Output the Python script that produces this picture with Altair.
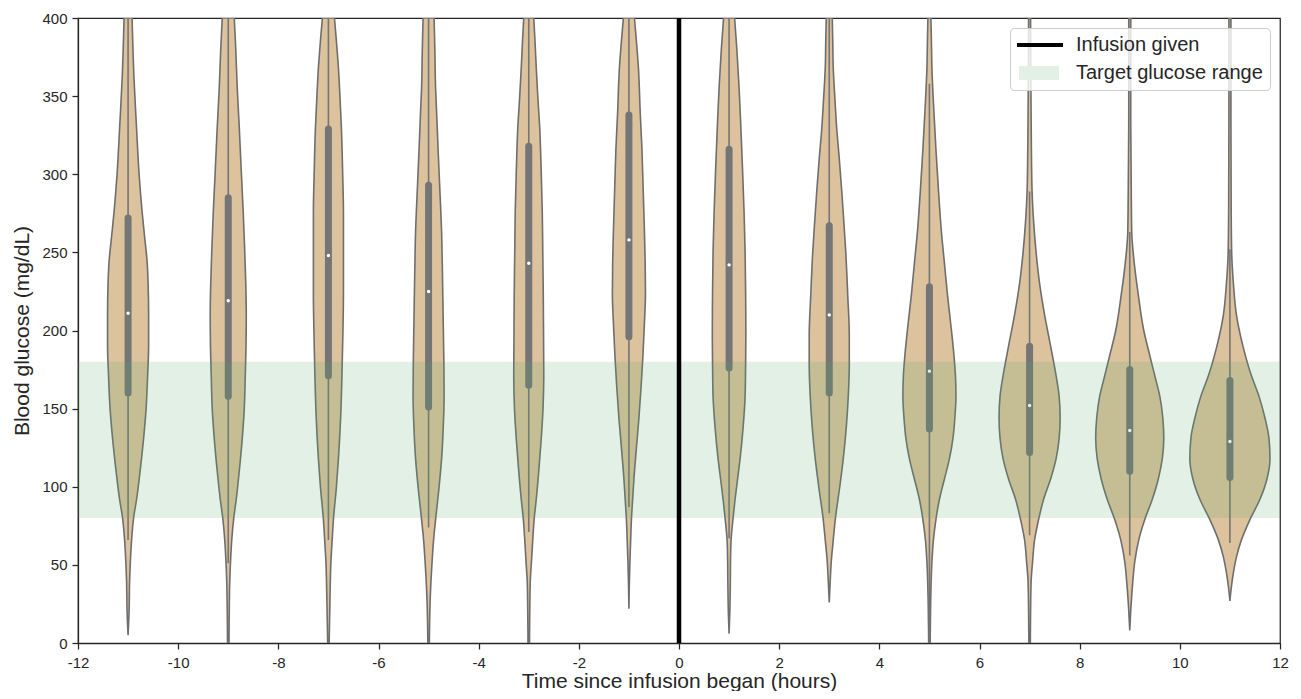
import altair as alt
import pandas as pd

# ---------------- data ----------------
centers = [-11, -9, -7, -5, -3, -1, 1, 3, 5, 7, 9, 11]

# violin outlines: glucose level (mg/dL) and half-width (hours)
lev_m11 = [5, 20, 39, 55, 66, 80, 92, 110, 131, 150, 171, 190, 210, 230, 244, 260, 276, 300, 329, 360, 400]
hw_m11 = [0, 0.02, 0.03, 0.05, 0.07, 0.11, 0.17, 0.24, 0.31, 0.36, 0.39, 0.41, 0.41, 0.40, 0.38, 0.33, 0.28, 0.22, 0.17, 0.12, 0.08]
lev_m9 = [0, 20, 39, 55, 66, 80, 92, 110, 131, 150, 171, 190, 210, 230, 250, 275, 302, 330, 355, 380, 400]
hw_m9 = [0.015, 0.02, 0.03, 0.05, 0.07, 0.11, 0.16, 0.22, 0.28, 0.32, 0.34, 0.355, 0.36, 0.35, 0.33, 0.30, 0.26, 0.22, 0.18, 0.15, 0.12]
lev_m7 = [0, 26, 52, 66, 79, 100, 118, 145, 171, 200, 223, 250, 276, 300, 329, 350, 368, 385, 400]
hw_m7 = [0.015, 0.03, 0.05, 0.075, 0.10, 0.16, 0.20, 0.245, 0.27, 0.29, 0.30, 0.30, 0.30, 0.285, 0.26, 0.23, 0.20, 0.16, 0.12]
lev_m5 = [0, 26, 52, 66, 79, 100, 118, 140, 158, 180, 210, 240, 263, 290, 316, 340, 355, 380, 400]
hw_m5 = [0.015, 0.03, 0.07, 0.10, 0.14, 0.21, 0.26, 0.295, 0.31, 0.305, 0.29, 0.275, 0.26, 0.225, 0.19, 0.16, 0.14, 0.125, 0.11]
lev_m3 = [0, 20, 39, 55, 66, 80, 92, 110, 131, 150, 171, 200, 223, 250, 276, 300, 329, 350, 368, 385, 400]
hw_m3 = [0.015, 0.02, 0.03, 0.06, 0.08, 0.11, 0.15, 0.20, 0.25, 0.285, 0.30, 0.295, 0.29, 0.28, 0.27, 0.25, 0.22, 0.18, 0.15, 0.125, 0.10]
lev_m1 = [22, 40, 52, 66, 79, 92, 105, 125, 144, 165, 184, 205, 223, 243, 263, 290, 316, 340, 368, 385, 400]
hw_m1 = [0, 0.01, 0.02, 0.035, 0.05, 0.075, 0.10, 0.15, 0.20, 0.245, 0.28, 0.31, 0.33, 0.325, 0.31, 0.285, 0.26, 0.225, 0.19, 0.15, 0.11]
lev_p1 = [6, 20, 39, 55, 66, 80, 92, 105, 118, 138, 158, 178, 197, 225, 250, 275, 302, 330, 355, 380, 400]
hw_p1 = [0, 0.015, 0.025, 0.03, 0.04, 0.08, 0.12, 0.17, 0.22, 0.28, 0.32, 0.33, 0.335, 0.33, 0.32, 0.30, 0.27, 0.235, 0.20, 0.155, 0.11]
lev_p3 = [26, 40, 52, 66, 79, 100, 118, 138, 158, 178, 197, 222, 250, 270, 289, 310, 329, 350, 368, 385, 400]
hw_p3 = [0, 0.02, 0.04, 0.08, 0.12, 0.21, 0.28, 0.34, 0.38, 0.40, 0.40, 0.37, 0.33, 0.29, 0.25, 0.20, 0.15, 0.11, 0.08, 0.07, 0.06]
lev_p5 = [0, 26, 52, 66, 79, 92, 105, 118, 131, 145, 158, 171, 184, 200, 223, 243, 263, 290, 316, 340, 368, 385, 400]
hw_p5 = [0.015, 0.025, 0.05, 0.08, 0.13, 0.20, 0.30, 0.40, 0.47, 0.51, 0.53, 0.52, 0.49, 0.44, 0.36, 0.30, 0.24, 0.18, 0.13, 0.09, 0.05, 0.04, 0.03]
lev_p7 = [0, 20, 39, 52, 66, 79, 92, 105, 118, 131, 144, 158, 171, 190, 210, 230, 250, 270, 289, 320, 360, 400]
hw_p7 = [0.015, 0.02, 0.03, 0.06, 0.10, 0.18, 0.28, 0.42, 0.53, 0.59, 0.61, 0.59, 0.53, 0.42, 0.30, 0.20, 0.13, 0.08, 0.05, 0.035, 0.025, 0.02]
lev_p9 = [8, 26, 39, 52, 66, 79, 92, 105, 118, 131, 144, 158, 171, 184, 200, 223, 243, 263, 290, 340, 400]
hw_p9 = [0, 0.03, 0.06, 0.10, 0.18, 0.30, 0.45, 0.57, 0.65, 0.68, 0.66, 0.60, 0.50, 0.40, 0.28, 0.17, 0.09, 0.04, 0.03, 0.02, 0.02]
lev_p11 = [27, 36, 45, 55, 66, 79, 92, 105, 118, 131, 144, 158, 171, 190, 210, 230, 250, 280, 340, 400]
hw_p11 = [0, 0.03, 0.07, 0.13, 0.23, 0.40, 0.60, 0.74, 0.80, 0.78, 0.70, 0.58, 0.43, 0.26, 0.13, 0.07, 0.035, 0.025, 0.02, 0.02]

levels = [lev_m11, lev_m9, lev_m7, lev_m5, lev_m3, lev_m1, lev_p1, lev_p3, lev_p5, lev_p7, lev_p9, lev_p11]
halfws = [hw_m11, hw_m9, hw_m7, hw_m5, hw_m3, hw_m1, hw_p1, hw_p3, hw_p5, hw_p7, hw_p9, hw_p11]

# inner box plots
q1 = [160, 158, 171, 151, 165, 196, 176, 160, 137, 122, 110, 106]
q3 = [272, 285, 329, 293, 318, 338, 316, 267, 228, 190, 175, 168]
med = [211, 219, 248, 225, 243, 258, 242, 210, 174, 152, 136, 129]
whisk_lo = [66, 51, 66, 74, 71, 87, 67, 83, 0, 69, 56, 64]
whisk_hi = [400, 400, 400, 400, 400, 400, 400, 400, 358, 289, 263, 252]

band_lo = [80]
band_hi = [180]
infusion_time = [0]

legend_labels = ["Infusion given", "Target glucose range"]
x_ticks = [-12, -10, -8, -6, -4, -2, 0, 2, 4, 6, 8, 10, 12]
y_ticks = [0, 50, 100, 150, 200, 250, 300, 350, 400]

# ---------------- tables ----------------
bdf = pd.DataFrame({"t": centers, "q1": q1, "q3": q3, "med": med,
                    "wlo": whisk_lo, "whi": whisk_hi})
band_df = pd.DataFrame({"blo": band_lo, "bhi": band_hi})
zero_df = pd.DataFrame({"t": infusion_time})
leg_df = pd.DataFrame({"label": legend_labels})

FONT = "Liberation Sans"
INK = "#262626"

xscale = alt.Scale(domain=[-12, 12], nice=False, zero=False)
yscale = alt.Scale(domain=[0, 400], nice=False)
xaxis = alt.Axis(values=x_ticks, labelExpr="datum.value + ''", title="Time since infusion began (hours)",
                 grid=False, tickSize=6, labelPadding=6, titlePadding=0, labelFlush=False)
yaxis = alt.Axis(values=y_ticks, title="Blood glucose (mg/dL)", grid=False, tickSize=6,
                 labelPadding=5, titlePadding=9, labelFlush=False)

violin_layers = []
for c, levs, ws in zip(centers, levels, halfws):
    df = pd.DataFrame({"g": levs, "left": [c - w for w in ws], "right": [c + w for w in ws]})
    violin_layers.append(
        alt.Chart(df).mark_area(orient="horizontal", interpolate="monotone", fill="#dcc39d",
                                stroke="#6e6e6e", strokeWidth=1.6, clip=True).encode(
            y=alt.Y("g:Q", scale=yscale, axis=yaxis),
            x=alt.X("left:Q", scale=xscale, stack=None, axis=xaxis),
            x2="right:Q")
    )

whiskers = alt.Chart(bdf).mark_rule(color="#757575", strokeWidth=1.6, clip=True).encode(
    x=alt.X("t:Q", scale=xscale, axis=xaxis), y=alt.Y("wlo:Q", scale=yscale, axis=yaxis), y2="whi:Q")

boxes = alt.Chart(bdf).mark_rule(color="#757575", strokeWidth=7, strokeCap="round", clip=True).encode(
    x=alt.X("t:Q", scale=xscale, axis=xaxis), y=alt.Y("q1:Q", scale=yscale, axis=yaxis), y2="q3:Q")

medians = alt.Chart(bdf).mark_point(filled=True, color="white", size=12, opacity=1, strokeWidth=0).encode(
    x=alt.X("t:Q", scale=xscale, axis=xaxis), y=alt.Y("med:Q", scale=yscale, axis=yaxis))

band = alt.Chart(band_df).mark_rect(color="#55a868", opacity=0.17).encode(
    y=alt.Y("blo:Q", scale=yscale, axis=yaxis), y2="bhi:Q")

zero_line = alt.Chart(zero_df).mark_rule(color="black", strokeWidth=4.5).encode(
    x=alt.X("t:Q", scale=xscale, axis=xaxis))

line_path = "M-1,-0.2H3.6V0.2H-1Z"
rect_path = "M-0.8,-0.7H3.2V0.7H-0.8Z"
leg = alt.Legend(title=None, orient="top-right", offset=10, symbolOpacity=1, symbolSize=400,
                 symbolStrokeWidth=0, labelFontSize=20, labelOffset=39, rowPadding=8, labelLimit=0,
                 padding=7, fillColor="rgba(255,255,255,0.8)", strokeColor="#cccccc",
                 cornerRadius=4, labelColor=INK, labelFont=FONT)
legend_layer = alt.Chart(leg_df).mark_point(filled=True, opacity=0, size=400).encode(
    color=alt.Color("label:N", scale=alt.Scale(domain=legend_labels, range=["#000000", "#e2f0e5"]), legend=leg),
    shape=alt.Shape("label:N", scale=alt.Scale(domain=legend_labels, range=[line_path, rect_path]), legend=leg),
)

chart = alt.layer(*violin_layers, whiskers, boxes, medians, band, zero_line, legend_layer).properties(
    width=1202, height=625,
    padding={"left": 70, "top": 10, "right": 13, "bottom": 48},
    autosize=alt.AutoSizeParams(type="none"),
).configure(font=FONT).configure_view(
    stroke=INK, strokeWidth=1.25
).configure_axis(
    domainColor=INK, domainWidth=1.25, tickColor=INK, tickWidth=1.25,
    labelFont=FONT, labelFontSize=15, labelColor=INK,
    titleFont=FONT, titleFontSize=21, titleFontWeight="normal", titleColor=INK,
)

chart.save("out.html", embed_options={"renderer": "svg", "actions": False})
